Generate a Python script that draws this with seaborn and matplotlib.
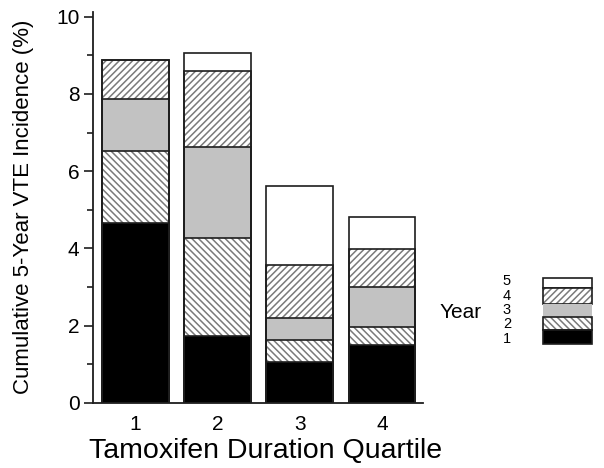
import numpy as np
import pandas as pd
import seaborn as sns
import matplotlib.pyplot as plt
from matplotlib.patches import Rectangle
from matplotlib.ticker import MultipleLocator

quartiles = ["1", "2", "3", "4"]
years = ["1", "2", "3", "4", "5"]
# VTE incidence added in each year (%)
year1 = [4.66, 1.73, 1.06, 1.51]
year2 = [1.86, 2.54, 0.56, 0.46]
year3 = [1.35, 2.36, 0.57, 1.04]
year4 = [1.01, 1.96, 1.37, 0.97]
year5 = [0.00, 0.46, 2.06, 0.84]

fills = {"1": "black", "2": "white", "3": "#c2c2c2", "4": "white", "5": "white"}
hatches = {"2": "\\\\\\\\\\", "4": "/////"}
edge = "#1e1e1e"
hatch_col = "#7a7a7a"

sns.set_style("ticks")
plt.rcParams['font.family'] = ['Liberation Sans', 'DejaVu Sans']
plt.rcParams['hatch.linewidth'] = 1.1
plt.rcParams['text.color'] = 'black'
plt.rcParams['xtick.labelcolor'] = 'black'
plt.rcParams['ytick.labelcolor'] = 'black'

cum = np.cumsum([year1, year2, year3, year4, year5], axis=0)

W, H = 604, 468
fig = plt.figure(figsize=(W / 100, H / 100), dpi=100)
ax = fig.add_axes([93.3 / W, 1 - 403 / H, 329.7 / W, 391.3 / H])

# fills: draw from top of the stack down so lower years cover upper ones
for i in range(4, -1, -1):
    yr = years[i]
    df = pd.DataFrame({"quartile": quartiles, "value": cum[i]})
    n = len(ax.patches)
    sns.barplot(data=df, x="quartile", y="value", color=fills[yr], width=0.81,
                errorbar=None, saturation=1, ax=ax)
    for p in ax.patches[n:]:
        p.set_facecolor(fills[yr])
        if yr in hatches:
            p.set_hatch(hatches[yr])
            p.set_edgecolor(hatch_col)
        else:
            p.set_edgecolor(fills[yr])
        p.set_linewidth(0)

# outlines of each segment boundary
for i in range(5):
    df = pd.DataFrame({"quartile": quartiles, "value": cum[i]})
    n = len(ax.patches)
    sns.barplot(data=df, x="quartile", y="value", color="white", width=0.81,
                errorbar=None, saturation=1, ax=ax)
    for p in ax.patches[n:]:
        p.set_facecolor("none")
        p.set_edgecolor(edge)
        p.set_linewidth(1.2)

ax.set_xlim(-0.51, 3.5)
ax.set_ylim(0, 10.13)
ax.set_yticks([0, 2, 4, 6, 8, 10])
ax.yaxis.set_minor_locator(MultipleLocator(1))
ax.set_xlabel("")
ax.set_ylabel("")
sns.despine(ax=ax)
for s in ["left", "bottom"]:
    ax.spines[s].set_linewidth(1.3)
    ax.spines[s].set_color(edge)
ax.tick_params(axis="x", length=0, pad=9, labelsize=15)
ax.tick_params(axis="y", which="major", length=6.5, width=1.2, pad=3.5,
               labelsize=15, color=edge)
ax.tick_params(axis="y", which="minor", length=4, width=1.2, color=edge)

fig.text(24 / W, 1 - 206.5 / H, "Cumulative 5-Year VTE Incidence (%)",
         rotation=90, ha="center", va="center", fontsize=16)
fig.text(265.5 / W, 1 - 458 / H, "Tamoxifen Duration Quartile",
         ha="center", va="baseline", fontsize=20.5)

# legend: stacked swatches with year labels to the left
def px_rect(x0, y0, x1, y1, **kw):
    return Rectangle((x0 / W, 1 - y1 / H), (x1 - x0) / W, (y1 - y0) / H,
                     transform=fig.transFigure, **kw)

swatch_rows = {"5": (278, 288), "4": (288, 304), "3": (304, 317),
               "2": (317, 330), "1": (330, 344)}
for yr, (y0, y1) in swatch_rows.items():
    if yr in hatches:
        fig.add_artist(px_rect(543, y0, 592, y1, facecolor="white",
                               edgecolor=hatch_col, hatch=hatches[yr], linewidth=0))
    else:
        fig.add_artist(px_rect(543, y0, 592, y1, facecolor=fills[yr], linewidth=0))
    if yr != "3":
        fig.add_artist(px_rect(543, y0, 592, y1, facecolor="none",
                               edgecolor=edge, linewidth=1.2))

label_y = {"5": 281, "4": 295.5, "3": 310, "2": 324.5, "1": 339}
for yr, yy in label_y.items():
    fig.text(507 / W, 1 - yy / H, yr, ha="center", va="center", fontsize=10.5)
fig.text(440 / W, 1 - 312 / H, "Year", ha="left", va="center", fontsize=15)

fig.savefig("out.png", dpi=100)
